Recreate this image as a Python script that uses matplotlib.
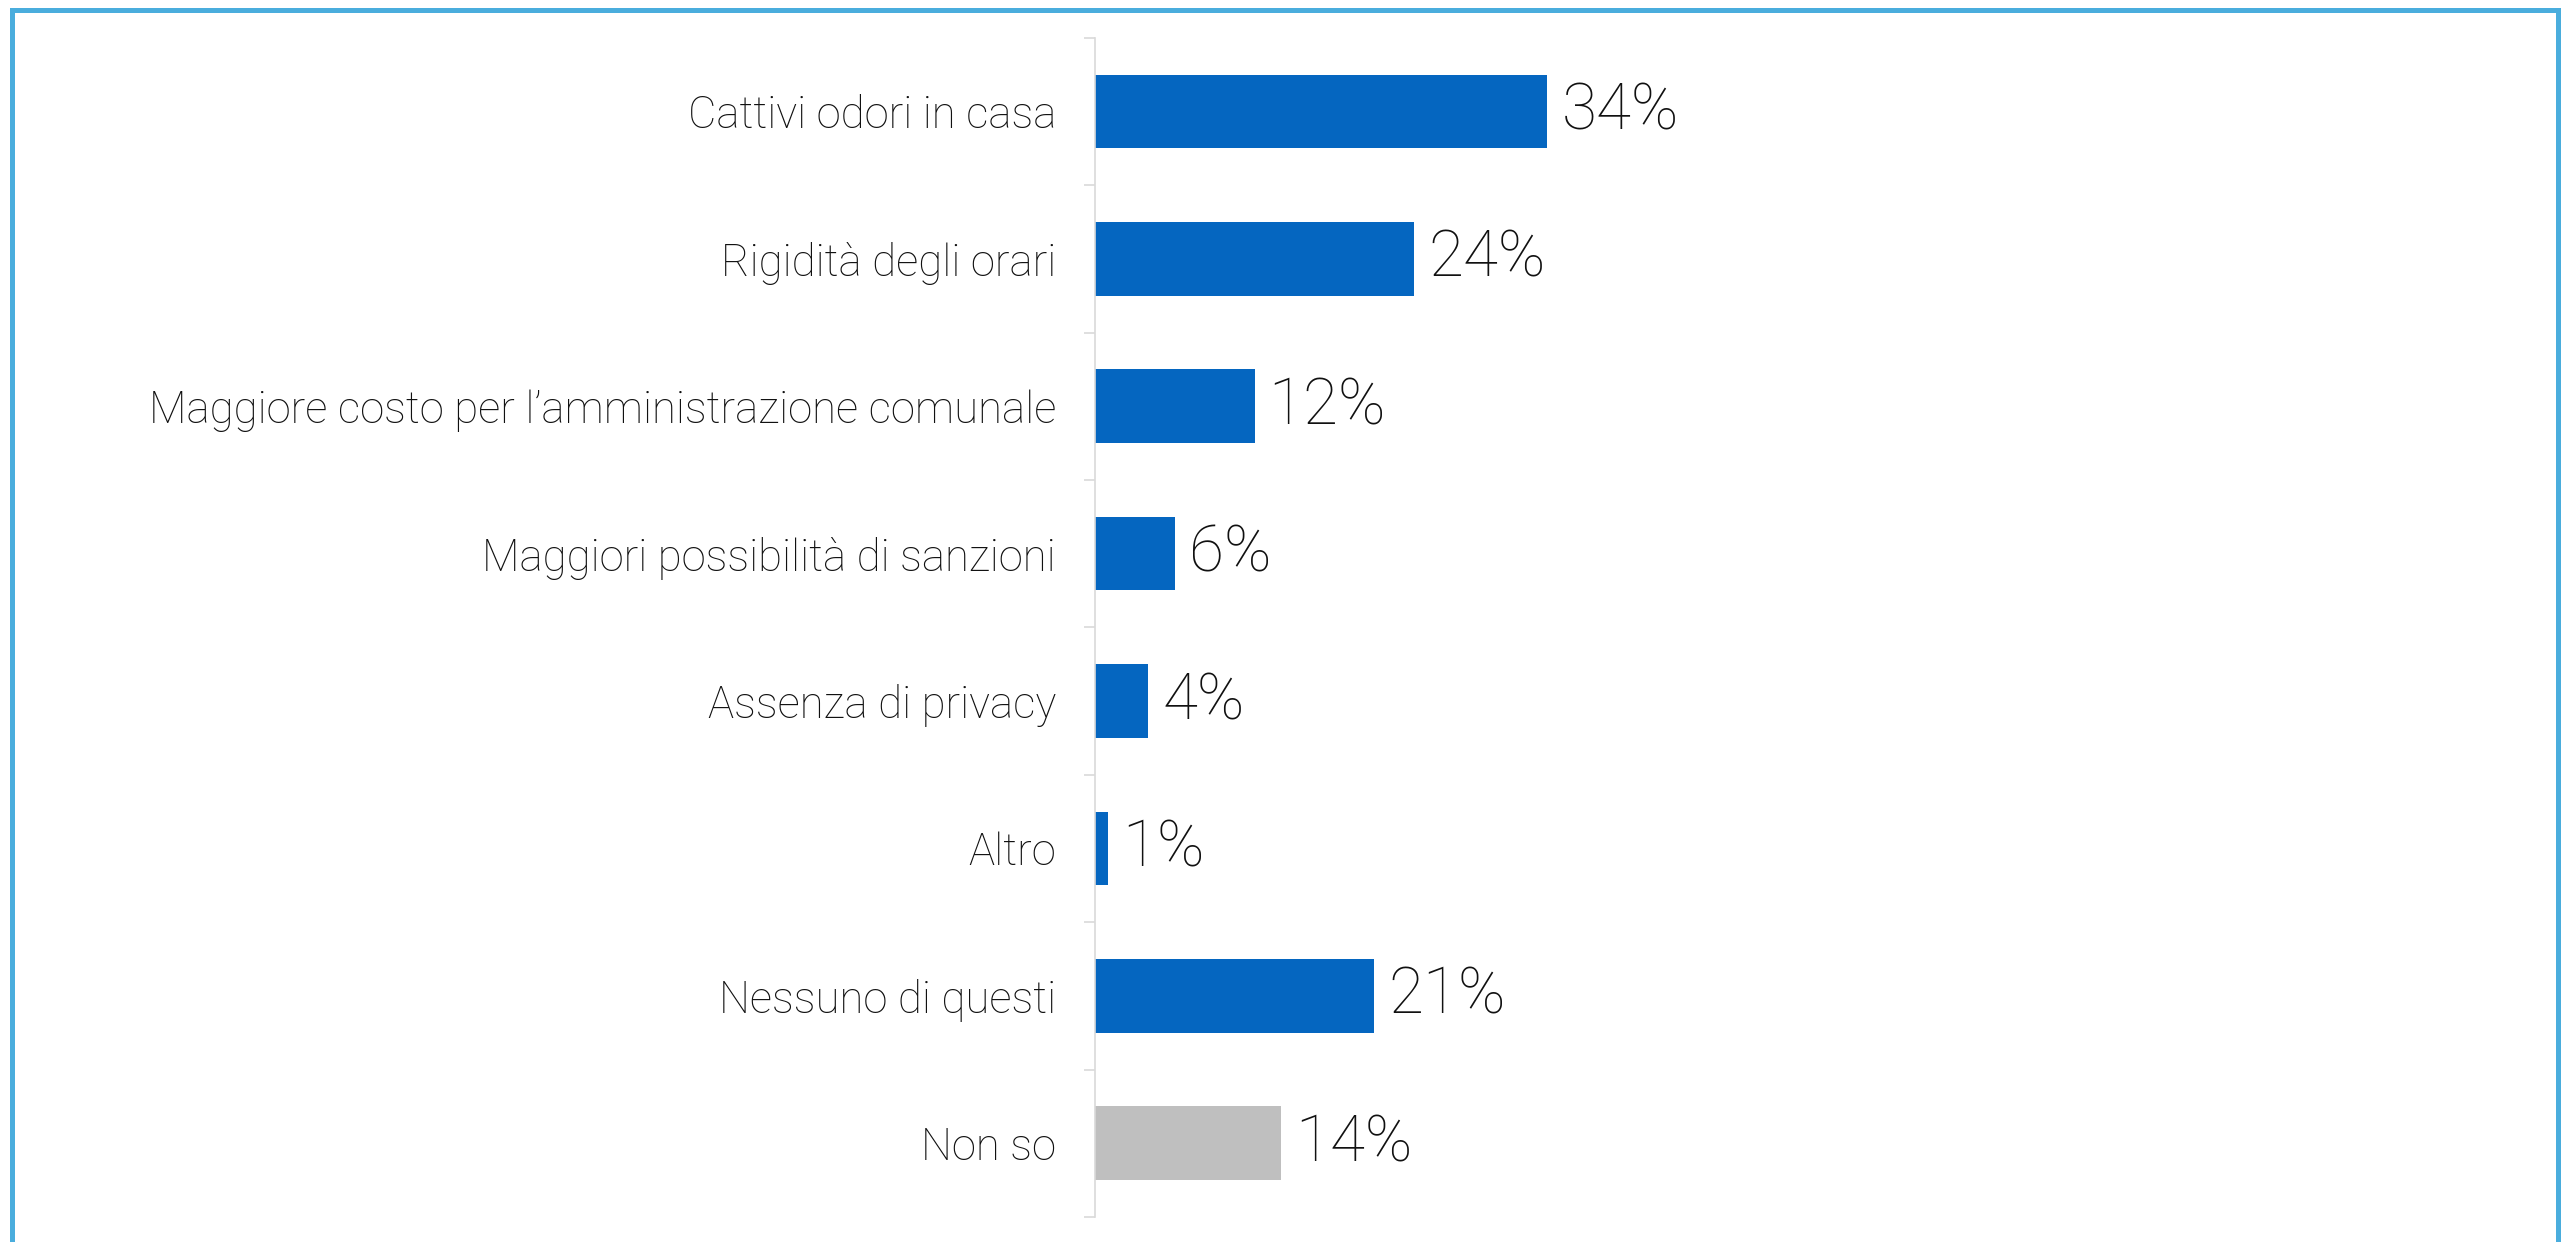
import matplotlib
matplotlib.use("Agg")
import matplotlib.pyplot as plt
from matplotlib.patches import Rectangle

# Data
categories = [
    "Cattivi odori in casa",
    "Rigidità degli orari",
    "Maggiore costo per l\u2019amministrazione comunale",
    "Maggiori possibilità di sanzioni",
    "Assenza di privacy",
    "Altro",
    "Nessuno di questi",
    "Non so",
]
values = [34, 24, 12, 6, 4, 1, 21, 14]
colors = ["#0566C0"] * 7 + ["#BFBFBF"]

plt.rcParams['font.family'] = ['Roboto', 'DejaVu Sans']

W, H, DPI = 2569, 1242, 100
fig = plt.figure(figsize=(W / DPI, H / DPI), dpi=DPI)
ax = fig.add_axes([1095 / W, 1 - 1217 / H, 1445 / W, (1217 - 37.7) / H])

y = list(range(len(categories)))
ax.barh(y, values, height=0.5, color=colors)
ax.set_ylim(len(categories) - 0.5, -0.5)
ax.set_xlim(0, 108.6)

for yi, v in zip(y, values):
    ax.annotate(f"{v}%", (v, yi), xytext=(10, 0), textcoords="offset points",
                va="center", ha="left", fontsize=46, fontweight="light", color="#111111")

ax.set_yticks(y)
ax.set_yticklabels(categories, fontsize=31.5, fontweight="light", color="#111111")
ax.set_yticks([i - 0.5 for i in range(len(categories) + 1)], minor=True)
ax.tick_params(axis="y", which="major", length=0, pad=28)
ax.tick_params(axis="y", which="minor", length=8, width=1.2, color="#D9D9D9")
ax.set_xticks([])
for s in ["top", "right", "bottom"]:
    ax.spines[s].set_visible(False)
ax.spines["left"].set_color("#D9D9D9")
ax.spines["left"].set_linewidth(1.2)

# blue frame around the chart (bottom edge falls outside the image)
fig.patches.append(Rectangle((12 / W, -0.1), (2558 - 12) / W, 1.1 - 9.5 / H,
                             transform=fig.transFigure, fill=False,
                             edgecolor="#4AADDD", linewidth=3.6))

fig.savefig("out.png", dpi=DPI)
